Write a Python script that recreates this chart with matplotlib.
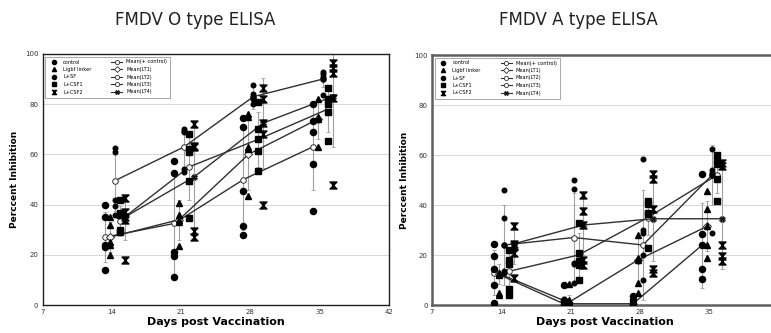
import matplotlib
matplotlib.use("Agg")
import matplotlib.pyplot as plt
from matplotlib.path import Path
from matplotlib.lines import Line2D

days = [14, 21, 28, 35]
groups = ["control", "Ligbf linker", "L+SF", "L+CSF1", "L+CSF2"]
mean_labels = ["Mean(+ control)", "Mean(LT1)", "Mean(LT2)", "Mean(LT3)", "Mean(LT4)"]

# O type ELISA: individual animals per group, per day
o_points = {
    "control": [[40, 35, 24, 23, 14], [57.5, 52.5, 21, 19.5, 11],
                [74.5, 71, 45.5, 31.5, 28], [80, 73.5, 69, 56, 37.5]],
    "Ligbf linker": [[35, 32, 25, 24, 20], [40.5, 36, 33, 23.5, 34],
                     [76, 75, 63, 43.5, 62], [82, 74.5, 74, 63, 75]],
    "L+SF": [[62.5, 61, 42, 39.5, 36], [69.5, 69, 54, 53, 70],
             [87.5, 84, 83, 80, 82], [92, 91, 83.5, 90, 93]],
    "L+CSF1": [[42, 36.5, 36, 30, 29], [68, 62, 61, 49.5, 34.5],
               [81, 70, 66, 61.5, 53.5], [86.5, 80, 77, 65.5, 82]],
    "L+CSF2": [[42.5, 37, 35, 34, 18], [72, 63.5, 63, 29.5, 27],
               [86.5, 82, 72.5, 68, 40], [96.5, 94.5, 92.5, 82.5, 48]],
}
o_means = [[27, 32.5, 50, 63], [27, 34, 60, 74], [49.5, 63, 83, 90],
           [33.5, 55, 66, 78], [35, 51, 72.5, 83]]
o_sd = [[10, 21, 20, 17], [6, 8, 14, 8], [12, 8, 5, 3],
        [6, 13, 11, 9], [9, 21, 18, 20]]

# A type ELISA
a_points = {
    "control": [[24.5, 19.5, 14.5, 8, 1], [8, 2, 1.5, 0.5, 0],
                [3.5, 2, 1, 0.5, 0], [52.5, 28.5, 14.5, 10.5, 24]],
    "Ligbf linker": [[13, 12.5, 5, 4, 12], [8.5, 2, 1, 0.5, 1.5],
                     [28, 19, 9, 5, 18], [45.5, 38.5, 31.5, 24, 19]],
    "L+SF": [[46, 35, 13.5, 13, 24], [50, 46.5, 17, 16.5, 9],
             [58.5, 30, 20, 10, 29], [62.5, 54, 53, 29, 52]],
    "L+CSF1": [[22, 18, 16.5, 6.5, 4], [33, 21, 17.5, 16, 10],
               [41.5, 40.5, 37, 36.5, 23], [60, 58, 56.5, 50.5, 41.5]],
    "L+CSF2": [[31.5, 24.5, 23.5, 11, 21], [44, 37.5, 18, 16, 32],
               [52.5, 50.5, 38.5, 14.5, 13], [57, 55.5, 24, 19.5, 17.5]],
}
a_means = [[13, 0.5, 0.5, 24], [12.5, 1, 18, 31.5], [24, 27, 24, 52],
           [13.5, 20, 35, 52], [24.5, 32, 34.5, 34.5]]
a_sd = [[9, 3, 2, 17], [4, 3, 9, 10], [16, 18, 22, 12],
        [8, 9, 7, 7], [8, 12, 17, 20]]

offsets = [-0.7, -0.2, 0.3, 0.8, 1.3]

hourglass = Path([(-1, 1), (1, 1), (-1, -1), (1, -1), (-1, 1)],
                 [Path.MOVETO, Path.LINETO, Path.LINETO, Path.LINETO, Path.CLOSEPOLY])
pt_markers = ["o", "^", "o", "s", hourglass]
pt_sizes = [4.4, 4.4, 3.3, 4.6, 5]
mean_markers = ["o", "D", "o", "o", "X"]
mean_faces = ["white", "white", "white", "white", "black"]


def draw_panel(ax, points, means, sds, frame_color, frame_width, xticks):
    for gi, g in enumerate(groups):
        xs = [d + offsets[gi] for d in days]
        ax.errorbar(xs, means[gi], yerr=sds[gi], fmt="none", ecolor="#a0a0a0",
                    elinewidth=0.8, capsize=1.5, capthick=0.6, zorder=1)
        for di, d in enumerate(days):
            vals = points[g][di]
            ax.plot([xs[di]] * len(vals), vals, linestyle="none",
                    marker=pt_markers[gi], markersize=pt_sizes[gi],
                    color="black", zorder=3)
        ax.plot(xs, means[gi], color="#303030", lw=1.0, marker=mean_markers[gi],
                markersize=4, markerfacecolor=mean_faces[gi],
                markeredgecolor="#303030", markeredgewidth=0.7, zorder=2)

    ax.set_xlim(7, 42)
    ax.set_ylim(0, 100)
    ax.set_xticks(xticks)
    ax.set_yticks(range(0, 101, 20))
    ax.tick_params(length=0, labelsize=5, colors="#333333", pad=3)
    ax.grid(axis="y", color="#d0d0d0", lw=0.6)
    ax.set_axisbelow(True)
    for s in ax.spines.values():
        s.set_color(frame_color)
        s.set_linewidth(frame_width)
    ax.set_xlabel("Days post Vaccination", fontsize=8, fontweight="bold", labelpad=1)
    ax.set_ylabel("Perccent Inhibition", fontsize=6.5, fontweight="bold", labelpad=4)

    handles = []
    for gi, g in enumerate(groups):
        handles.append(Line2D([], [], linestyle="none", marker=pt_markers[gi],
                              markersize=3, color="black", label=g))
    for gi, lab in enumerate(mean_labels):
        handles.append(Line2D([], [], color="#303030", lw=0.8, marker=mean_markers[gi],
                              markersize=3, markerfacecolor=mean_faces[gi],
                              markeredgewidth=0.6, label=lab))
    leg = ax.legend(handles=handles, ncol=2, loc="upper left", fontsize=3.6,
                    frameon=True, fancybox=False, borderpad=0.6, labelspacing=0.5,
                    handlelength=2.2, columnspacing=4, bbox_to_anchor=(0.0, 1.0))
    leg.get_frame().set_edgecolor("#808080")
    leg.get_frame().set_linewidth(0.6)


fig = plt.figure(figsize=(7.71, 3.33), dpi=100)
ax1 = fig.add_axes([42.5 / 771, 28 / 333, 346.5 / 771, 251 / 333])
ax2 = fig.add_axes([432 / 771, 28 / 333, 346.5 / 771, 250 / 333])

draw_panel(ax1, o_points, o_means, o_sd, "#202020", 1.0, range(7, 43, 7))
draw_panel(ax2, a_points, a_means, a_sd, "#606060", 1.8, range(7, 36, 7))

fig.text(195 / 771, 1 - 20 / 333, "FMDV O type ELISA", fontsize=12,
         ha="center", va="center", color="#222222")
fig.text(578 / 771, 1 - 20 / 333, "FMDV A type ELISA", fontsize=12,
         ha="center", va="center", color="#222222")

fig.savefig("out.png", dpi=100)
plt.close(fig)
